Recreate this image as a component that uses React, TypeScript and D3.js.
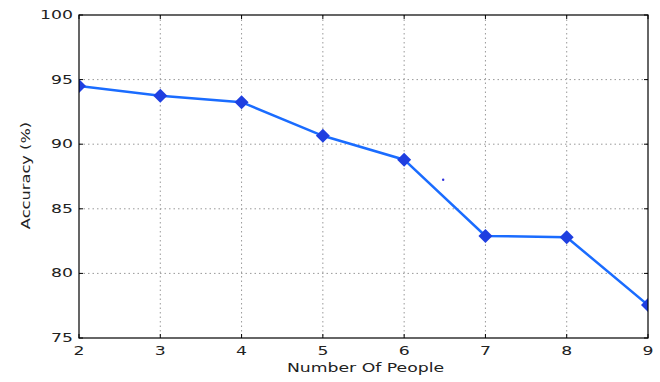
import React from "react";
import * as d3 from "d3";

const people = [2, 3, 4, 5, 6, 7, 8, 9];
const accuracy = [94.5, 93.75, 93.25, 90.65, 88.8, 82.9, 82.8, 77.55];
const strayX = [6.48];
const strayY = [87.25];
const xTicks = [2, 3, 4, 5, 6, 7, 8, 9];
const yTicks = [75, 80, 85, 90, 95, 100];

const W = 660, H = 382;
const L = 79, R = 648, T = 15, B = 338;

export default function App() {
  const x = d3.scaleLinear().domain([2, 9]).range([L, R]);
  const y = d3.scaleLinear().domain([75, 100]).range([B, T]);
  const line = d3.line<number>().x((_, i) => x(people[i])).y((d) => y(d));
  const font = "DejaVu Sans, sans-serif";
  const sx = 1.38;
  const fs = 12.5;
  const diamond = d3.symbol().type(d3.symbolDiamond2).size(125)();
  return (
    <svg width={W} height={H} style={{ position: "absolute", left: 0, top: 0, background: "#fff" }}>
      <defs>
        <clipPath id="clip"><rect x={L} y={T} width={R - L} height={B - T} /></clipPath>
      </defs>
      {xTicks.slice(1, -1).map((t) => (
        <line key={"gx" + t} x1={x(t)} x2={x(t)} y1={T} y2={B} stroke="#999" strokeDasharray="1.5,3" />
      ))}
      {yTicks.slice(1, -1).map((t) => (
        <line key={"gy" + t} x1={L} x2={R} y1={y(t)} y2={y(t)} stroke="#999" strokeDasharray="1.5,3" />
      ))}
      {xTicks.map((t) => (
        <g key={"tx" + t}>
          <line x1={x(t)} x2={x(t)} y1={B} y2={B - 4} stroke="#000" />
          <line x1={x(t)} x2={x(t)} y1={T} y2={T + 4} stroke="#000" />
          <text transform={`translate(${x(t)},${B + 17}) scale(${sx},1)`} textAnchor="middle" fontFamily={font} fontSize={fs} fill="#222">{t}</text>
        </g>
      ))}
      {yTicks.map((t) => (
        <g key={"ty" + t}>
          <line x1={L} x2={L + 4} y1={y(t)} y2={y(t)} stroke="#000" />
          <line x1={R} x2={R - 4} y1={y(t)} y2={y(t)} stroke="#000" />
          <text transform={`translate(${L - 6},${y(t) + 4}) scale(${sx},1)`} textAnchor="end" fontFamily={font} fontSize={fs} fill="#222">{t}</text>
        </g>
      ))}
      <g clipPath="url(#clip)">
        <path d={line(accuracy) || ""} fill="none" stroke="#1a6cff" strokeWidth={2.5} />
        {accuracy.map((v, i) => (
          <path key={"m" + i} d={diamond || ""} transform={`translate(${x(people[i])},${y(v)})`} fill="#1f3fe0" />
        ))}
        {strayX.map((v, i) => (
          <circle key={"s" + i} cx={x(v)} cy={y(strayY[i])} r={1.2} fill="#3333dd" />
        ))}
      </g>
      <rect x={L} y={T} width={R - L} height={B - T} fill="none" stroke="#000" strokeWidth={1.2} />
      <text transform={`translate(${(L + R) / 2 + 2},${B + 34}) scale(${sx},1)`} textAnchor="middle" fontFamily={font} fontSize={fs} fill="#222">Number Of People</text>
      <text transform={`translate(30,${(T + B) / 2 - 1}) rotate(-90) scale(1.3,1)`} textAnchor="middle" fontFamily={font} fontSize={fs} fill="#222">Accuracy (%)</text>
    </svg>
  );
}
